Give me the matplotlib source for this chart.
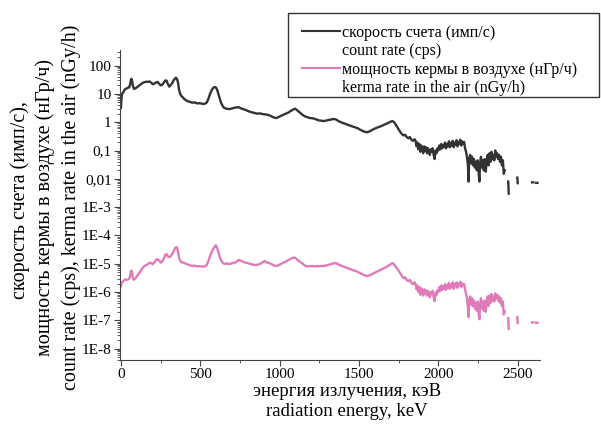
import matplotlib
matplotlib.use('Agg')
import matplotlib.pyplot as plt
from matplotlib.lines import Line2D
from matplotlib.patches import Rectangle
from matplotlib.ticker import FixedLocator, FuncFormatter, LogLocator, MultipleLocator
import numpy as np

plt.rcParams['font.family'] = ['Liberation Serif', 'DejaVu Serif']

nan = float('nan')

# энергия, кэВ
energy = [0, 3, 6, 10, 15, 20, 28, 36, 44, 52, 58, 63, 67, 71, 76, 82, 90, 100, 110, 120,
          130, 140, 150, 160, 170, 180, 190, 200, 210, 220, 230, 240, 250, 260, 270, 280, 288, 296, 305, 315,
          325, 335, 342, 348, 354, 360, 366, 372, 380, 390, 400, 410, 420, 435, 450, 465, 480, 495, 510, 525,
          540, 550, 560, 570, 580, 590, 598, 606, 614, 622, 630, 640, 650, 665, 680, 695, 710, 725, 740, 755,
          770, 785, 800, 815, 830, 845, 860, 875, 890, 905, 920, 935, 950, 965, 980, 995, 1010, 1025, 1040, 1055,
          1070, 1085, 1095, 1105, 1115, 1130, 1145, 1160, 1175, 1190, 1205, 1220, 1235, 1250, 1265, 1280, 1295,
          1310, 1325, 1340, 1355, 1370, 1385, 1400, 1415, 1430, 1445, 1460, 1475, 1490, 1505, 1520, 1535, 1550,
          1565, 1580, 1595, 1610, 1625, 1640, 1655, 1670, 1685, 1700, 1710, 1720, 1730, 1740, 1750, 1760, 1770,
          1780, 1790, 1800, 1810, 1820, 1830, 1840, 1850,
          1856, 1862, 1868, 1874, 1880, 1886, 1892, 1898, 1904, 1910, 1916, 1922, 1928, 1934, 1940, 1946, 1952,
          1958, 1964, 1970, 1976, 1982, 1988, 1994, 2000, 2006, 2012, 2018, 2024, 2030, 2036, 2042, 2048, 2054,
          2060, 2066, 2072, 2078, 2084, 2090, 2096, 2102, 2108, 2114, 2120, 2126, 2132, 2138, 2144, 2150, 2156,
          2162, 2168, 2174, 2180, 2186, 2190, 2194, 2200, 2206, 2212, 2218, 2224, 2230, 2236, 2242, 2248, 2254,
          2258, 2262, 2268, 2274, 2280, 2286, 2292, 2298, 2304, 2310, 2316, 2322, 2328, 2334, 2340, 2346, 2352,
          2358, 2364, 2370, 2376, 2382, 2388, 2394, 2400, 2406, 2412, 2418, 2422,
          2440, 2443, 2446, 2497, 2500, 2503, 2590, 2598, 2602, 2616, 2624, 2628]

# скорость счета, имп/с
count_rate = [3.2, 6.5, 9.5, 10.5, 11.5, 13, 15, 15.5, 16.5, 17, 22, 32, 34, 27, 18, 15, 15.5, 17, 19, 21,
              23, 25, 26, 27, 26.5, 27.5, 25, 22, 23, 25, 26.5, 23, 20, 21, 25, 30, 29, 22, 18, 21,
              25, 32, 36, 37, 33, 24, 14, 10.5, 8.5, 7.5, 6.5, 6, 5.5, 5.2, 4.9, 5.0, 4.6, 4.7, 4.5, 4.4,
              4.9, 6.5, 9.5, 13, 16, 17.5, 17, 14, 10, 7, 5, 3.8, 3.2, 3.0, 2.9, 3.0, 3.2, 3.3, 3.4, 3.1,
              2.9, 2.7, 2.5, 2.3, 2.2, 2.1, 2.0, 2.05, 1.95, 1.9, 1.85, 1.75, 1.6, 1.45, 1.4, 1.55, 1.7, 1.85,
              2.0, 2.2, 2.5, 2.8, 3.0, 2.8, 2.5, 2.1, 1.8, 1.6, 1.5, 1.4, 1.38, 1.32, 1.22, 1.15, 1.12, 1.1,
              1.15, 1.2, 1.25, 1.3, 1.25, 1.1, 1.0, 0.93, 0.87, 0.8, 0.75, 0.7, 0.66, 0.62, 0.55, 0.5, 0.46,
              0.44, 0.47, 0.52, 0.58, 0.63, 0.68, 0.73, 0.8, 0.87, 0.95, 1.05, 1.1, 1.0, 0.85, 0.68, 0.55, 0.45,
              0.38, 0.34, 0.36, 0.3, 0.27, 0.3, 0.24, 0.22, 0.25,
              0.22, 0.14, 0.19, 0.11, 0.17, 0.09, 0.15, 0.12, 0.08, 0.14, 0.10, 0.13, 0.08, 0.12, 0.10, 0.07, 0.11,
              0.09, 0.12, 0.07, 0.05, 0.10, 0.08, 0.12, 0.10, 0.15, 0.11, 0.17, 0.12, 0.16, 0.13, 0.19, 0.12, 0.17,
              0.14, 0.21, 0.13, 0.18, 0.15, 0.22, 0.13, 0.19, 0.16, 0.23, 0.14, 0.20, 0.17, 0.24, 0.15, 0.21, 0.18,
              0.20, 0.12, 0.09, 0.06, 0.03, 0.008, 0.05, 0.07, 0.035, 0.06, 0.03, 0.05, 0.025, 0.04, 0.02, 0.045,
              0.015, 0.008, 0.03, 0.06, 0.025, 0.045, 0.02, 0.05, 0.018, 0.04, 0.07, 0.03, 0.08, 0.04, 0.09, 0.05,
              0.07, 0.045, 0.1, 0.06, 0.08, 0.05, 0.07, 0.04, 0.06, 0.03, 0.045, 0.015, 0.02, nan,
              0.008, 0.003, nan, 0.011, 0.007, nan, 0.0075, 0.0075, nan, 0.0072, 0.0072, nan]

# мощность кермы в воздухе, нГр/ч
kerma_rate = [1.6e-6, 2.0e-6, 2.2e-6, 2.3e-6, 2.4e-6, 2.6e-6, 2.8e-6, 2.7e-6, 2.8e-6, 2.9e-6, 3.8e-6, 5.5e-6,
              5.7e-6, 4.2e-6, 3.0e-6, 2.7e-6, 3.0e-6, 3.6e-6, 4.3e-6, 5.2e-6,
              6.2e-6, 7.6e-6, 8.4e-6, 9.2e-6, 9.6e-6, 1.1e-5, 1.05e-5, 9.6e-6, 1.1e-5, 1.35e-5, 1.45e-5, 1.3e-5,
              1.1e-5, 1.2e-5, 1.5e-5, 2.1e-5, 2.2e-5, 1.8e-5, 1.7e-5, 1.9e-5,
              2.3e-5, 3.0e-5, 3.6e-5, 3.9e-5, 3.6e-5, 2.6e-5, 1.6e-5, 1.3e-5, 1.15e-5, 1.1e-5, 1.05e-5, 1.0e-5,
              9.5e-6, 8.7e-6, 8.4e-6, 8.6e-6, 8.0e-6, 8.2e-6, 8.0e-6, 7.9e-6,
              9.0e-6, 1.2e-5, 1.8e-5, 2.5e-5, 3.2e-5, 4.0e-5, 4.5e-5, 3.6e-5, 2.5e-5, 1.8e-5, 1.35e-5, 1.1e-5,
              1.0e-5, 1.02e-5, 9.8e-6, 1.02e-5, 1.08e-5, 1.12e-5, 1.35e-5, 1.3e-5,
              1.15e-5, 1.1e-5, 1.05e-5, 9.8e-6, 9.4e-6, 9.0e-6, 9.2e-6, 9.8e-6, 1.1e-5, 1.25e-5, 1.1e-5, 1.05e-5,
              9.6e-6, 8.6e-6, 8.3e-6, 9.0e-6, 1.0e-5, 1.1e-5, 1.2e-5, 1.35e-5,
              1.5e-5, 1.62e-5, 1.65e-5, 1.5e-5, 1.3e-5, 1.15e-5, 1.0e-5, 8.5e-6, 8.0e-6, 8.2e-6, 8.4e-6, 8.0e-6,
              8.3e-6, 8.1e-6, 8.4e-6, 8.3e-6, 8.8e-6,
              9.2e-6, 9.8e-6, 1.03e-5, 1.05e-5, 9.5e-6, 8.6e-6, 8.0e-6, 7.4e-6, 6.9e-6, 6.5e-6, 6.0e-6, 5.6e-6,
              5.2e-6, 4.7e-6, 4.3e-6, 3.9e-6, 3.7e-6,
              3.9e-6, 4.2e-6, 4.7e-6, 5.2e-6, 5.7e-6, 6.2e-6, 6.9e-6, 7.6e-6, 8.6e-6, 9.8e-6, 1.05e-5, 9.6e-6,
              8.0e-6, 6.8e-6, 5.6e-6, 4.6e-6, 3.7e-6,
              3.1e-6, 3.3e-6, 2.7e-6, 2.4e-6, 2.7e-6, 2.1e-6, 1.9e-6, 2.2e-6,
              1.9e-6, 1.25e-6, 1.7e-6, 1.0e-6, 1.5e-6, 8.0e-7, 1.35e-6, 1.05e-6, 7.5e-7, 1.25e-6, 9.0e-7, 1.15e-6,
              7.5e-7, 1.1e-6, 9.0e-7, 6.5e-7, 1.0e-6,
              8.5e-7, 1.1e-6, 6.5e-7, 4.8e-7, 9.5e-7, 7.8e-7, 1.15e-6, 1.0e-6, 1.5e-6, 1.1e-6, 1.7e-6, 1.2e-6,
              1.6e-6, 1.3e-6, 1.9e-6, 1.2e-6, 1.7e-6,
              1.4e-6, 2.1e-6, 1.3e-6, 1.8e-6, 1.5e-6, 2.2e-6, 1.3e-6, 1.9e-6, 1.6e-6, 2.2e-6, 1.4e-6, 2.0e-6,
              1.7e-6, 2.3e-6, 1.5e-6, 2.0e-6, 1.8e-6,
              1.9e-6, 1.2e-6, 9e-7, 6e-7, 3e-7, 1.3e-7, 5e-7, 7e-7, 3.6e-7, 6e-7, 3.2e-7, 5e-7, 2.6e-7, 4.2e-7,
              2.2e-7, 4.6e-7,
              1.7e-7, 1.1e-7, 3.2e-7, 6e-7, 2.6e-7, 4.6e-7, 2.2e-7, 5e-7, 2e-7, 4.2e-7, 7e-7, 3.2e-7, 7.5e-7,
              4.2e-7, 8.5e-7, 5e-7,
              7e-7, 4.6e-7, 9e-7, 6e-7, 8e-7, 5e-7, 7e-7, 4.2e-7, 6e-7, 3.2e-7, 4.6e-7, 1.6e-7, 2.1e-7, nan,
              1.2e-7, 5e-8, nan, 1.3e-7, 8e-8, nan, 8.5e-8, 8.5e-8, nan, 8.2e-8, 8.2e-8, nan]

# подписи делений по оси y
y_tick_labels = {2: '100', 1: '10', 0: '1', -1: '0,1', -2: '0,01', -3: '1E-3', -4: '1E-4',
                 -5: '1E-5', -6: '1E-6', -7: '1E-7', -8: '1E-8'}

legend_labels = ['скорость счета (имп/с)', 'count rate (cps)',
                 'мощность кермы в воздухе (нГр/ч)', 'kerma rate in the air (nGy/h)']

black = '#333333'
pink = '#e07ab8'


def yFormat(value, pos):  # подпись для степени десяти
    exp = int(round(np.log10(value)))
    return y_tick_labels.get(exp, '')


W, H = 601, 426
fig = plt.figure(figsize=(W / 100, H / 100), dpi=100)
ax = fig.add_axes([120 / W, 1 - 360 / H, 420 / W, 310 / H])

ax.plot(energy, count_rate, color=black, lw=1.7)
ax.plot(energy, kerma_rate, color=pink, lw=1.7)

ax.set_yscale('log')
ax.set_xlim(-6, 2640)
ax.set_ylim(10 ** -8.4, 10 ** 2.55)

ax.yaxis.set_major_locator(FixedLocator([10.0 ** e for e in y_tick_labels]))
ax.yaxis.set_major_formatter(FuncFormatter(yFormat))
ax.yaxis.set_minor_locator(LogLocator(base=10, subs=np.arange(2, 10), numticks=30))
ax.xaxis.set_major_locator(MultipleLocator(500))
ax.xaxis.set_minor_locator(MultipleLocator(250))

for side in ['top', 'right']:
    ax.spines[side].set_visible(False)
for side in ['left', 'bottom']:
    ax.spines[side].set_color('#444444')
ax.tick_params(which='major', direction='out', length=4, width=0.8, color='#444444', labelsize=11, pad=2)
ax.tick_params(which='minor', direction='out', length=2, width=0.6, color='#444444')

# подписи осей отдельными строками
fig.text(20 / W, 1 - 200 / H, 'скорость счета (имп/с),', rotation=90, ha='center', va='center', fontsize=14.5)
fig.text(45 / W, 1 - 207 / H, 'мощность кермы в воздухе (нГр/ч)', rotation=90, ha='center', va='center',
         fontsize=14.5)
fig.text(71 / W, 1 - 390 / H, 'count rate (cps), kerma rate in the air (nGy/h)', rotation=90, ha='center',
         va='bottom', fontsize=14.5)
fig.text(347 / W, 1 - 392 / H, 'энергия излучения, кэВ', ha='center', va='center', fontsize=13.5)
fig.text(347 / W, 1 - 412 / H, 'radiation energy, keV', ha='center', va='center', fontsize=13.5)

# рамка легенды рисуется отдельно
fig.patches.append(Rectangle((288 / W, 1 - 97 / H), 311 / W, 84 / H, transform=fig.transFigure,
                             fill=False, edgecolor='#333333', lw=1.0))

handles = [Line2D([], [], color=black, lw=1.5), Line2D([], [], lw=0),
           Line2D([], [], color=pink, lw=1.5), Line2D([], [], lw=0)]
leg = fig.legend(handles, legend_labels, loc='upper left', bbox_to_anchor=(302 / W, 1 - 25 / H),
                 bbox_transform=fig.transFigure, frameon=False,
                 fontsize=11.5, handlelength=2.4, handletextpad=0.12, labelspacing=0.15, borderpad=0,
                 borderaxespad=0)

fig.savefig('out.png', dpi=100)
